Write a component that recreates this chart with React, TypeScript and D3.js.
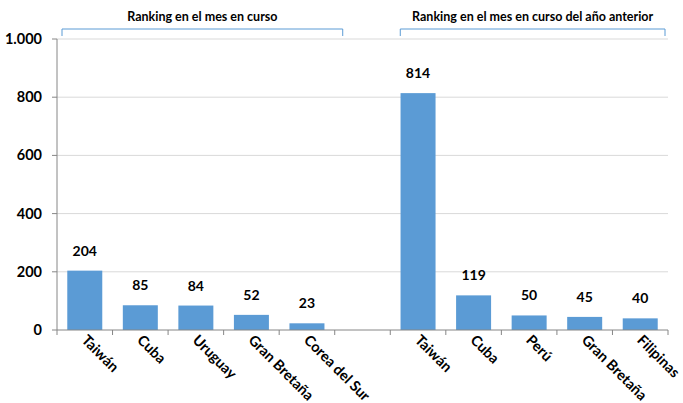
import * as d3 from 'd3'

const currentCountries = ['Taiwán', 'Cuba', 'Uruguay', 'Gran Bretaña', 'Corea del Sur']
const currentValues = [204, 85, 84, 52, 23]
const previousCountries = ['Taiwán', 'Cuba', 'Perú', 'Gran Bretaña', 'Filipinas']
const previousValues = [814, 119, 50, 45, 40]
const yTicks = [0, 200, 400, 600, 800, 1000]
const groupTitles = ['Ranking en el mes en curso', 'Ranking en el mes en curso del año anterior']

const FONT = 'Lato, "Open Sans", sans-serif'
const BAR = '#5b9bd5'

export default function App() {
  const width = 683
  const height = 403
  const left = 57
  const right = 668
  const top = 39
  const bottom = 330

  const rows = [
    ...currentCountries.map((c, i) => ({ key: `a${i}`, label: c, value: currentValues[i] })),
    { key: 'gap', label: '', value: null as number | null },
    ...previousCountries.map((c, i) => ({ key: `b${i}`, label: c, value: previousValues[i] })),
  ]

  const x = d3.scaleBand().domain(rows.map((r) => r.key)).range([left, right]).paddingInner(0).paddingOuter(0)
  const y = d3.scaleLinear().domain([0, 1000]).range([bottom, top])
  const bw = x.bandwidth() * 0.63
  const fmt = (v: number) => (v >= 1000 ? d3.format(',')(v).replace(',', '.') : String(v))

  const brackets = [
    { x0: (x('a0') ?? 0) + 5, x1: (x('gap') ?? 0) + 8, title: groupTitles[0] },
    { x0: (x('b0') ?? 0) + 10, x1: right - 3, title: groupTitles[1] },
  ]

  const boundaries = rows.map((r) => x(r.key) ?? 0).concat([right])

  return (
    <svg width={width} height={height} style={{ position: 'absolute', left: 0, top: 0 }}>
      <rect width={width} height={height} fill="#fff" />
      {yTicks.filter((t) => t > 0).map((t) => (
        <line key={t} x1={left} x2={right} y1={y(t)} y2={y(t)} stroke="#d9d9d9" strokeWidth={1} />
      ))}
      {rows.filter((r) => r.value !== null).map((r) => {
        const cx = (x(r.key) ?? 0) + x.bandwidth() / 2
        return (
          <g key={r.key}>
            <rect x={cx - bw / 2} y={y(r.value as number)} width={bw} height={bottom - y(r.value as number)} fill={BAR} />
            <text x={cx} y={y(r.value as number) - 15} textAnchor="middle" fontFamily={FONT} fontWeight="bold" fontSize={14} fill="#000">
              {r.value}
            </text>
          </g>
        )
      })}
      {/* axes */}
      <line x1={left} x2={left} y1={top} y2={bottom} stroke="#868686" />
      <line x1={left} x2={right} y1={bottom} y2={bottom} stroke="#868686" />
      {yTicks.map((t) => (
        <g key={t}>
          <line x1={left - 5} x2={left} y1={y(t)} y2={y(t)} stroke="#868686" />
          <text x={left - 15} y={y(t)} dy="0.35em" textAnchor="end" fontFamily={FONT} fontWeight="bold" fontSize={14.5} fill="#000">
            {fmt(t)}
          </text>
        </g>
      ))}
      {boundaries.map((b, i) => (
        <line key={i} x1={b} x2={b} y1={bottom} y2={bottom + 5} stroke="#868686" />
      ))}
      {rows.filter((r) => r.label).map((r) => {
        const cx = (x(r.key) ?? 0) + x.bandwidth() / 2
        return (
          <text key={r.key} transform={`translate(${cx - 4},${bottom + 11}) rotate(45)`} fontFamily={FONT} fontWeight="bold" fontSize={14.5} fill="#000">
            {r.label}
          </text>
        )
      })}
      {brackets.map((b, i) => (
        <g key={i}>
          <path d={`M${b.x0},36 V29 H${b.x1} V36`} fill="none" stroke={BAR} strokeWidth={1} />
          <text x={(b.x0 + b.x1) / 2} y={21} textAnchor="middle" fontFamily={FONT} fontWeight="bold" fontSize={12.5} fill="#000">
            {b.title}
          </text>
        </g>
      ))}
    </svg>
  )
}
